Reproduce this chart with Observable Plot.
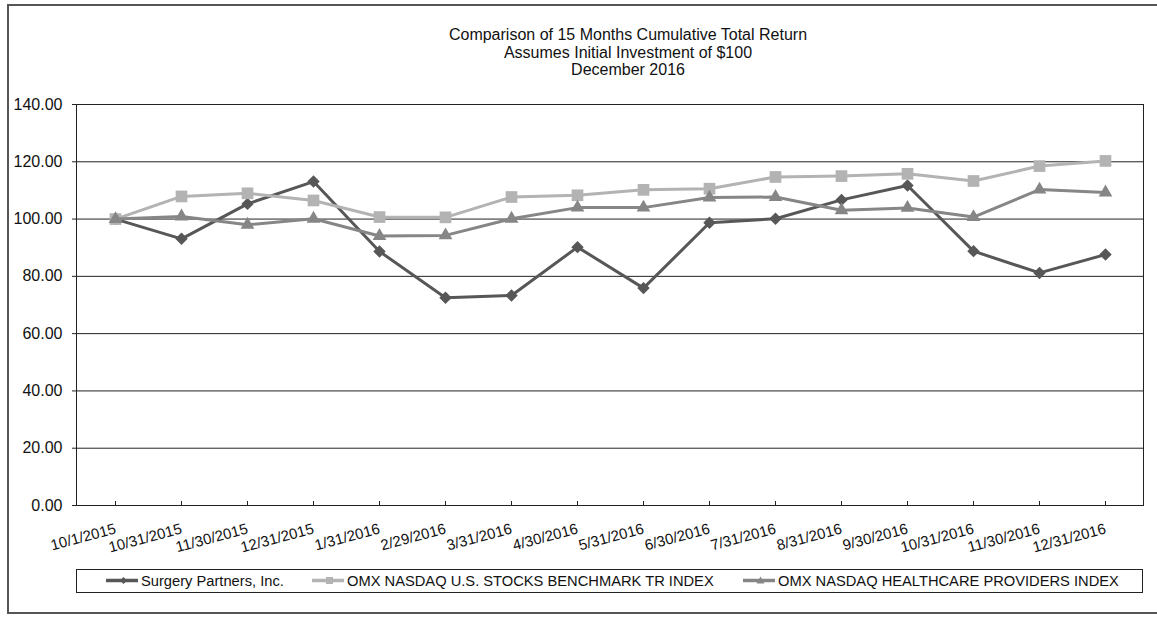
<!DOCTYPE html>
<html>
<head>
<meta charset="utf-8">
<script src="https://cdn.jsdelivr.net/npm/d3@7"></script>
<script src="https://cdn.jsdelivr.net/npm/@observablehq/plot@0.6"></script>
<style>
  html, body { margin: 0; padding: 0; background: #fff; }
  #wrap { position: relative; width: 1157px; height: 617px; overflow: hidden; font-family: "Liberation Sans", Arial, sans-serif; color: #111; }
  #border { position: absolute; left: 7px; top: 4px; width: 1170px; height: 610px; border: 2px solid #555; box-sizing: border-box; }
  #title { position: absolute; left: 328px; width: 600px; top: 26px; text-align: center; font-size: 16px; line-height: 17.5px; }
  #chart { position: absolute; left: 0; top: 0; }
  #legend { position: absolute; left: 76px; top: 569px; width: 1067px; height: 24px; border: 1.5px solid #222; box-sizing: border-box; }
  .item { position: absolute; top: 0; height: 21px; display: flex; align-items: center; font-size: 14.7px; white-space: nowrap; }
  .item svg { margin-right: 2px; }
</style>
</head>
<body>
<div id="wrap">
  <div id="border"></div>
  <div id="title"></div>
  <div id="chart"></div>
  <div id="legend"></div>
</div>
<script>
const titleLines = ["Comparison of 15 Months Cumulative Total Return", "Assumes Initial Investment of $100", "December 2016"];

const dates = ["10/1/2015","10/31/2015","11/30/2015","12/31/2015","1/31/2016","2/29/2016","3/31/2016","4/30/2016","5/31/2016","6/30/2016","7/31/2016","8/31/2016","9/30/2016","10/31/2016","11/30/2016","12/31/2016"];

const surgery   = [100, 93.1, 105.3, 113.1, 88.7, 72.5, 73.3, 90.2, 75.9, 98.7, 100.1, 106.7, 111.7, 88.8, 81.2, 87.6];
const benchmark = [100, 107.9, 109.0, 106.5, 100.7, 100.6, 107.7, 108.3, 110.2, 110.6, 114.7, 115.0, 115.8, 113.3, 118.5, 120.3];
const health    = [100, 100.9, 98.0, 100.1, 94.1, 94.3, 100.1, 104.0, 104.0, 107.5, 107.7, 103.1, 103.9, 100.7, 110.3, 109.3];

const seriesNames = ["Surgery Partners, Inc.", "OMX NASDAQ U.S. STOCKS BENCHMARK TR INDEX", "OMX NASDAQ HEALTHCARE PROVIDERS INDEX"];
const yTicks = [0, 20, 40, 60, 80, 100, 120, 140];

const styles = [
  {color: "#575757", symbol: "diamond2", r: 5.6},
  {color: "#b3b3b3", symbol: "square", r: 6.6},
  {color: "#868686", symbol: "triangle", r: 5.1}
];
const values = [surgery, benchmark, health];

document.getElementById("title").innerHTML = titleLines.map(t => `<div>${t}</div>`).join("");

const rows = [];
values.forEach((vals, s) => vals.forEach((v, i) => rows.push({date: dates[i], value: v, series: seriesNames[s]})));

const seriesMarks = [];
seriesNames.forEach((name, s) => {
  const data = rows.filter(d => d.series === name);
  seriesMarks.push(Plot.line(data, {x: "date", y: "value", stroke: styles[s].color, strokeWidth: 3}));
  seriesMarks.push(Plot.dot(data, {x: "date", y: "value", symbol: () => styles[s].symbol, r: styles[s].r, fill: styles[s].color, stroke: "none"}));
});

const chart = Plot.plot({
  width: 1157,
  height: 617,
  marginLeft: 76,
  marginRight: 14,
  marginTop: 104,
  marginBottom: 112,
  style: {fontFamily: "Liberation Sans, Arial, sans-serif", fontSize: "15px", color: "#111", background: "transparent"},
  x: {type: "point", domain: dates, padding: 0.5, label: null},
  y: {domain: [0, 140], label: null},
  symbol: {type: "identity"},
  marks: [
    Plot.ruleY(yTicks, {stroke: "#222", strokeWidth: 1}),
    Plot.frame({stroke: "#222", strokeWidth: 1}),
    Plot.ruleX(dates, {stroke: "#222", insetTop: 397}),
    Plot.axisY({ticks: yTicks, tickSize: 4, tickPadding: 10, tickFormat: d => d.toFixed(2), fontSize: 16, stroke: "#222", label: null}),
    Plot.axisX({tickSize: 0, tickPadding: 23, tickRotate: -15, textAnchor: "end", lineAnchor: "middle", fontSize: 15, label: null}),
    ...seriesMarks
  ]
});
document.getElementById("chart").appendChild(chart);

const legendPos = [{sw: 105, tx: 140}, {sw: 311, tx: 346}, {sw: 742, tx: 777}];
const legend = document.getElementById("legend");
seriesNames.forEach((name, s) => {
  const st = styles[s];
  const div = document.createElement("div");
  div.className = "item";
  div.style.left = (legendPos[s].sw - 76) + "px";
  const w = legendPos[s].tx - legendPos[s].sw;
  let marker;
  if (st.symbol === "diamond2") marker = `<path d="M${w/2},7 l3.5,3.5 l-3.5,3.5 l-3.5,-3.5z" fill="${st.color}"/>`;
  else if (st.symbol === "square") marker = `<rect x="${w/2-3.5}" y="7" width="7" height="7" fill="${st.color}"/>`;
  else marker = `<path d="M${w/2},6.5 l4,7 l-8,0z" fill="${st.color}"/>`;
  div.innerHTML = `<svg width="${w - 2}" height="21" viewBox="0 0 ${w - 2} 21" style="overflow:visible"><line x1="0" x2="${w - 3}" y1="10.5" y2="10.5" stroke="${st.color}" stroke-width="3.5"/>${marker}</svg><span>${name}</span>`;
  legend.appendChild(div);
});
</script>
</body>
</html>
